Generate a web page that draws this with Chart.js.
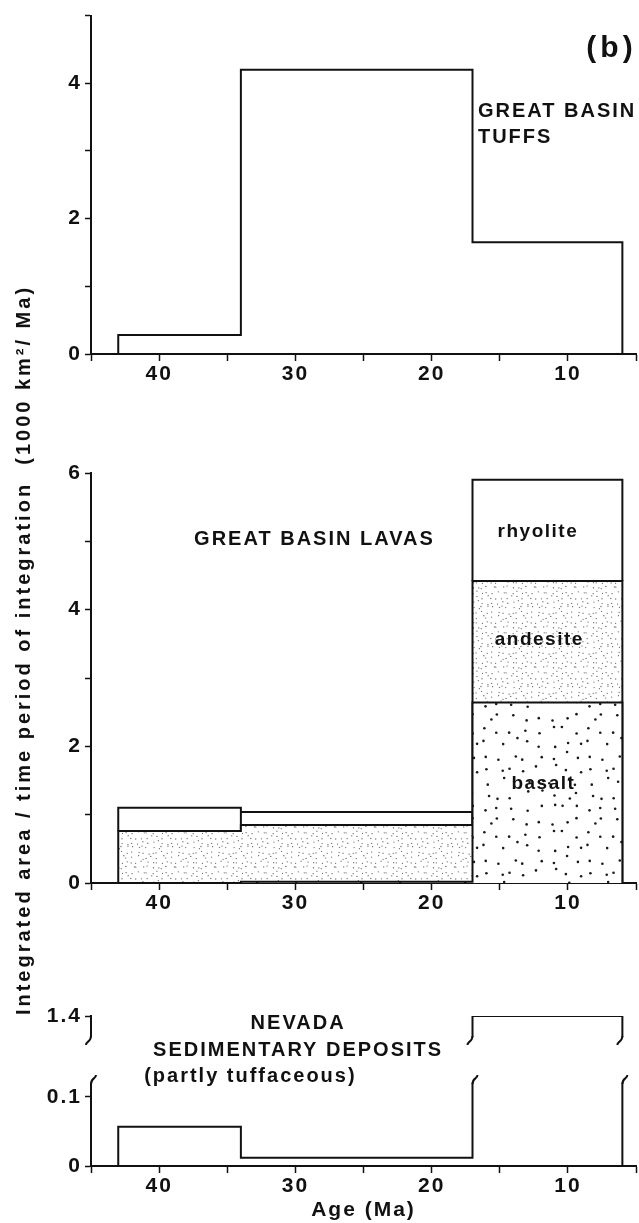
<!DOCTYPE html>
<html>
<head>
<meta charset="utf-8">
<title>Great Basin eruption and sedimentation rates</title>
<script src="https://cdn.jsdelivr.net/npm/chart.js@4/dist/chart.umd.min.js"></script>
<style>
  body { margin: 0; background: #fff; }
  #fig { position: relative; width: 639px; height: 1223px; overflow: hidden; background: #fff; }
  #fig canvas { position: absolute; left: 0; }
  #ytitle {
    position: absolute; left: -356px; top: 638px; width: 760px; height: 24px;
    line-height: 24px; text-align: center; white-space: pre; color: #111;
    font: bold 20px "Liberation Sans", Arial, sans-serif; letter-spacing: 3px;
    transform: rotate(-90deg);
  }
</style>
</head>
<body>
<div id="fig">
  <canvas id="tuffChart" width="639" height="400" style="top:0"></canvas>
  <canvas id="lavaChart" width="639" height="480" style="top:450px"></canvas>
  <canvas id="sedChart" width="639" height="293" style="top:930px"></canvas>
  <div id="ytitle">Integrated area / time period of integration  (1000 km²/ Ma)</div>
</div>
<script>
// 年代区間（Ma）: 43-34, 34-17, 17-6
const ageEdges = [43, 34, 17, 6];
const ageTicks = [45, 40, 35, 30, 25, 20, 15, 10, 5];
const ageLabels = [40, 30, 20, 10];

// (上) Great Basin tuffs
const tuffRate = [0.28, 4.2, 1.65];
const tuffTicks = [0, 1, 2, 3, 4, 5];
const tuffLabels = [0, 2, 4];

// (中) Great Basin lavas: 各層の上端
const basaltTop = [0, 0.02, 2.64];
const andesiteTop = [0.76, 0.85, 4.42];
const lavaTotal = [1.10, 1.04, 5.90];
const lavaTicks = [0, 1, 2, 3, 4, 5, 6];
const lavaLabels = [0, 2, 4, 6];

// (下) Nevada sedimentary deposits（軸は途中で省略）
const sedRate = [0.057, 0.012, 1.4];
const sedLowTicks = [0, 0.1];
const sedHighTicks = [1.4];
const sedBreakLow = 0.132;   // 下側軸の切れ目
const sedBreakHigh = 1.334;  // 上側軸の切れ目

const INK = '#111';
const FONT = '"Liberation Sans", Arial, sans-serif';
const tickFont = { family: FONT, size: 21, weight: 'bold' };

// ヒストグラムの階段線
function stepPoints(values) {
  const pts = [{ x: ageEdges[0], y: 0 }];
  values.forEach((v, i) => pts.push({ x: ageEdges[i], y: v }));
  pts.push({ x: ageEdges[ageEdges.length - 1], y: values[values.length - 1] });
  pts.push({ x: ageEdges[ageEdges.length - 1], y: 0 });
  return pts;
}

// 列ごとの箱（下端 lower, 上端 upper）
function boxPoints(lower, upper) {
  const pts = [];
  upper.forEach((v, i) => {
    pts.push({ x: ageEdges[i], y: lower[i] });
    pts.push({ x: ageEdges[i], y: v });
    pts.push({ x: ageEdges[i + 1], y: v });
    pts.push({ x: ageEdges[i + 1], y: lower[i] });
    pts.push({ x: ageEdges[i + 1], y: null });
  });
  return pts;
}

// 点描パターン（見た目用、固定シード）
function dotPattern(step, radius, jitter, shade, seed) {
  const n = 8, size = step * n;
  const c = document.createElement('canvas');
  c.width = c.height = size;
  const g = c.getContext('2d');
  g.fillStyle = '#fff';
  g.fillRect(0, 0, size, size);
  g.fillStyle = shade;
  const h = k => { const t = Math.sin(k * 12.9898 + seed * 78.233) * 43758.5453; return t - Math.floor(t); };
  for (let r = 0; r < n; r++) {
    for (let q = 0; q < n; q++) {
      const k = r * n + q;
      const px = (q + 0.5) * step + (h(k) - 0.5) * 2 * jitter;
      const py = (r + 0.5) * step + (h(k + 500) - 0.5) * 2 * jitter;
      g.beginPath();
      g.arc(px, py, radius, 0, Math.PI * 2);
      g.fill();
    }
  }
  return g.createPattern(c, 'repeat');
}

function xAxis(height, withTitle) {
  return {
    type: 'linear', reverse: true, min: 5, max: 45,
    afterBuildTicks: s => { s.ticks = ageTicks.map(v => ({ value: v })); },
    afterFit: s => { s.height = height; },
    ticks: {
      callback: v => ageLabels.includes(v) ? String(v) : '',
      font: tickFont, color: INK, padding: 1, maxRotation: 0, autoSkip: false
    },
    grid: { drawOnChartArea: false, tickLength: 7, tickColor: INK, tickWidth: 1.5 },
    border: { color: INK, width: 2 },
    title: {
      display: !!withTitle, text: 'Age (Ma)', color: INK,
      font: { family: FONT, size: 21, weight: 'bold' }, padding: { top: 0, bottom: 0 }
    }
  };
}

function yAxis(min, max, ticks, labels, extra) {
  return Object.assign({
    type: 'linear', min: min, max: max,
    afterBuildTicks: s => { s.ticks = ticks.map(v => ({ value: v })); },
    afterFit: s => { s.width = 91; },
    ticks: {
      callback: v => labels.includes(v) ? String(v) : '',
      font: tickFont, color: INK, padding: 3, autoSkip: false
    },
    grid: { drawOnChartArea: false, tickLength: 6, tickColor: INK, tickWidth: 1.5 },
    border: { color: INK, width: 2 }
  }, extra || {});
}

function baseOptions(padTop, xHeight, yScales, withTitle) {
  return {
    responsive: false, animation: false, events: [],
    layout: { padding: { top: padTop, right: 3, left: 0, bottom: 0 } },
    plugins: { legend: { display: false }, tooltip: { enabled: false } },
    elements: {
      point: { radius: 0 },
      line: { stepped: true, tension: 0, borderWidth: 2, borderColor: INK }
    },
    scales: Object.assign({ x: xAxis(xHeight, withTitle) }, yScales)
  };
}

// 軸ラベルの字間（原図は字間が広い）
const spacingPlugin = {
  id: 'spacing',
  beforeLayout(chart) { chart.ctx.letterSpacing = '2px'; },
  beforeDraw(chart) { chart.ctx.letterSpacing = '2px'; }
};

// 注記テキスト（データ座標で配置）
function notesPlugin(notes) {
  return {
    id: 'notes',
    afterDraw(chart) {
      const ctx = chart.ctx;
      ctx.save();
      notes.forEach(n => {
        const x = chart.scales.x.getPixelForValue(n.age);
        const y = chart.scales[n.axis || 'y'].getPixelForValue(n.value);
        ctx.font = 'bold ' + (n.size || 20) + 'px ' + FONT;
        ctx.fillStyle = INK;
        ctx.textAlign = n.align || 'center';
        ctx.textBaseline = 'middle';
        ctx.letterSpacing = (n.spacing || 2) + 'px';
        ctx.fillText(n.text, x, y);
      });
      ctx.restore();
    }
  };
}

// 軸の切れ目（下段）
const breakPlugin = {
  id: 'axisBreak',
  afterDatasetsDraw(chart) {
    const { ctx, chartArea, scales } = chart;
    const yTop = scales.yHigh.getPixelForValue(sedBreakHigh);
    const yBot = scales.y.getPixelForValue(sedBreakLow);
    const xs = [chartArea.left,
      scales.x.getPixelForValue(ageEdges[2]),
      scales.x.getPixelForValue(ageEdges[3])];
    ctx.save();
    ctx.fillStyle = '#fff';
    ctx.strokeStyle = INK;
    ctx.lineWidth = 2;
    xs.forEach(x => {
      ctx.fillRect(x - 4, yTop - 8, 8, yBot - yTop + 16);
      ctx.beginPath();
      ctx.moveTo(x, yTop - 9);
      ctx.bezierCurveTo(x, yTop - 3, x - 5, yTop - 4, x - 5, yTop);
      ctx.moveTo(x, yBot + 9);
      ctx.bezierCurveTo(x, yBot + 3, x + 5, yBot + 4, x + 5, yBot);
      ctx.stroke();
    });
    ctx.restore();
  }
};

const basaltFill = dotPattern(13, 1.3, 4.5, '#1a1a1a', 7);
const andesiteFill = dotPattern(5, 0.65, 2, '#666', 3);

new Chart(document.getElementById('tuffChart'), {
  type: 'line',
  data: { datasets: [{ data: stepPoints(tuffRate), fill: false }] },
  options: baseOptions(10, 46, { y: yAxis(0, 5, tuffTicks, tuffLabels) }),
  plugins: [spacingPlugin, notesPlugin([
    { text: '(b)', age: 6.8, value: 4.51, size: 30, spacing: 4 },
    { text: 'GREAT BASIN', age: 16.6, value: 3.59, align: 'left' },
    { text: 'TUFFS', age: 16.6, value: 3.2, align: 'left' }
  ])]
});

new Chart(document.getElementById('lavaChart'), {
  type: 'line',
  data: {
    datasets: [
      { label: 'basalt', data: stepPoints(basaltTop), fill: 'origin', backgroundColor: basaltFill },
      { label: 'andesite', data: stepPoints(andesiteTop), fill: 'origin', backgroundColor: andesiteFill },
      { label: 'rhyolite', data: boxPoints(andesiteTop, lavaTotal), fill: false, spanGaps: false }
    ]
  },
  options: baseOptions(23, 47, { y: yAxis(0, 6, lavaTicks, lavaLabels) }),
  plugins: [spacingPlugin, notesPlugin([
    { text: 'GREAT BASIN LAVAS', age: 28.6, value: 5.02 },
    { text: 'rhyolite', age: 12.2, value: 5.14, size: 19, spacing: 1.5 },
    { text: 'andesite', age: 12.1, value: 3.56, size: 19, spacing: 1.5 },
    { text: 'basalt', age: 11.8, value: 1.45, size: 19, spacing: 1.5 }
  ])]
});

new Chart(document.getElementById('sedChart'), {
  type: 'line',
  data: {
    datasets: [
      { data: stepPoints(sedRate), yAxisID: 'y', fill: false },
      { data: stepPoints(sedRate), yAxisID: 'yHigh', fill: false }
    ]
  },
  options: baseOptions(86, 57, {
    y: yAxis(0, 0.1536, sedLowTicks, sedLowTicks, { stack: 'sed', stackWeight: 106 }),
    yHigh: yAxis(1.3, 1.4, sedHighTicks, sedHighTicks, { stack: 'sed', stackWeight: 44 })
  }, true),
  plugins: [spacingPlugin, breakPlugin, notesPlugin([
    { text: 'NEVADA', age: 29.8, value: 0.2058 },
    { text: 'SEDIMENTARY DEPOSITS', age: 29.8, value: 0.168 },
    { text: '(partly tuffaceous)', age: 41.1, value: 0.1304, align: 'left' }
  ])]
});
</script>
</body>
</html>
